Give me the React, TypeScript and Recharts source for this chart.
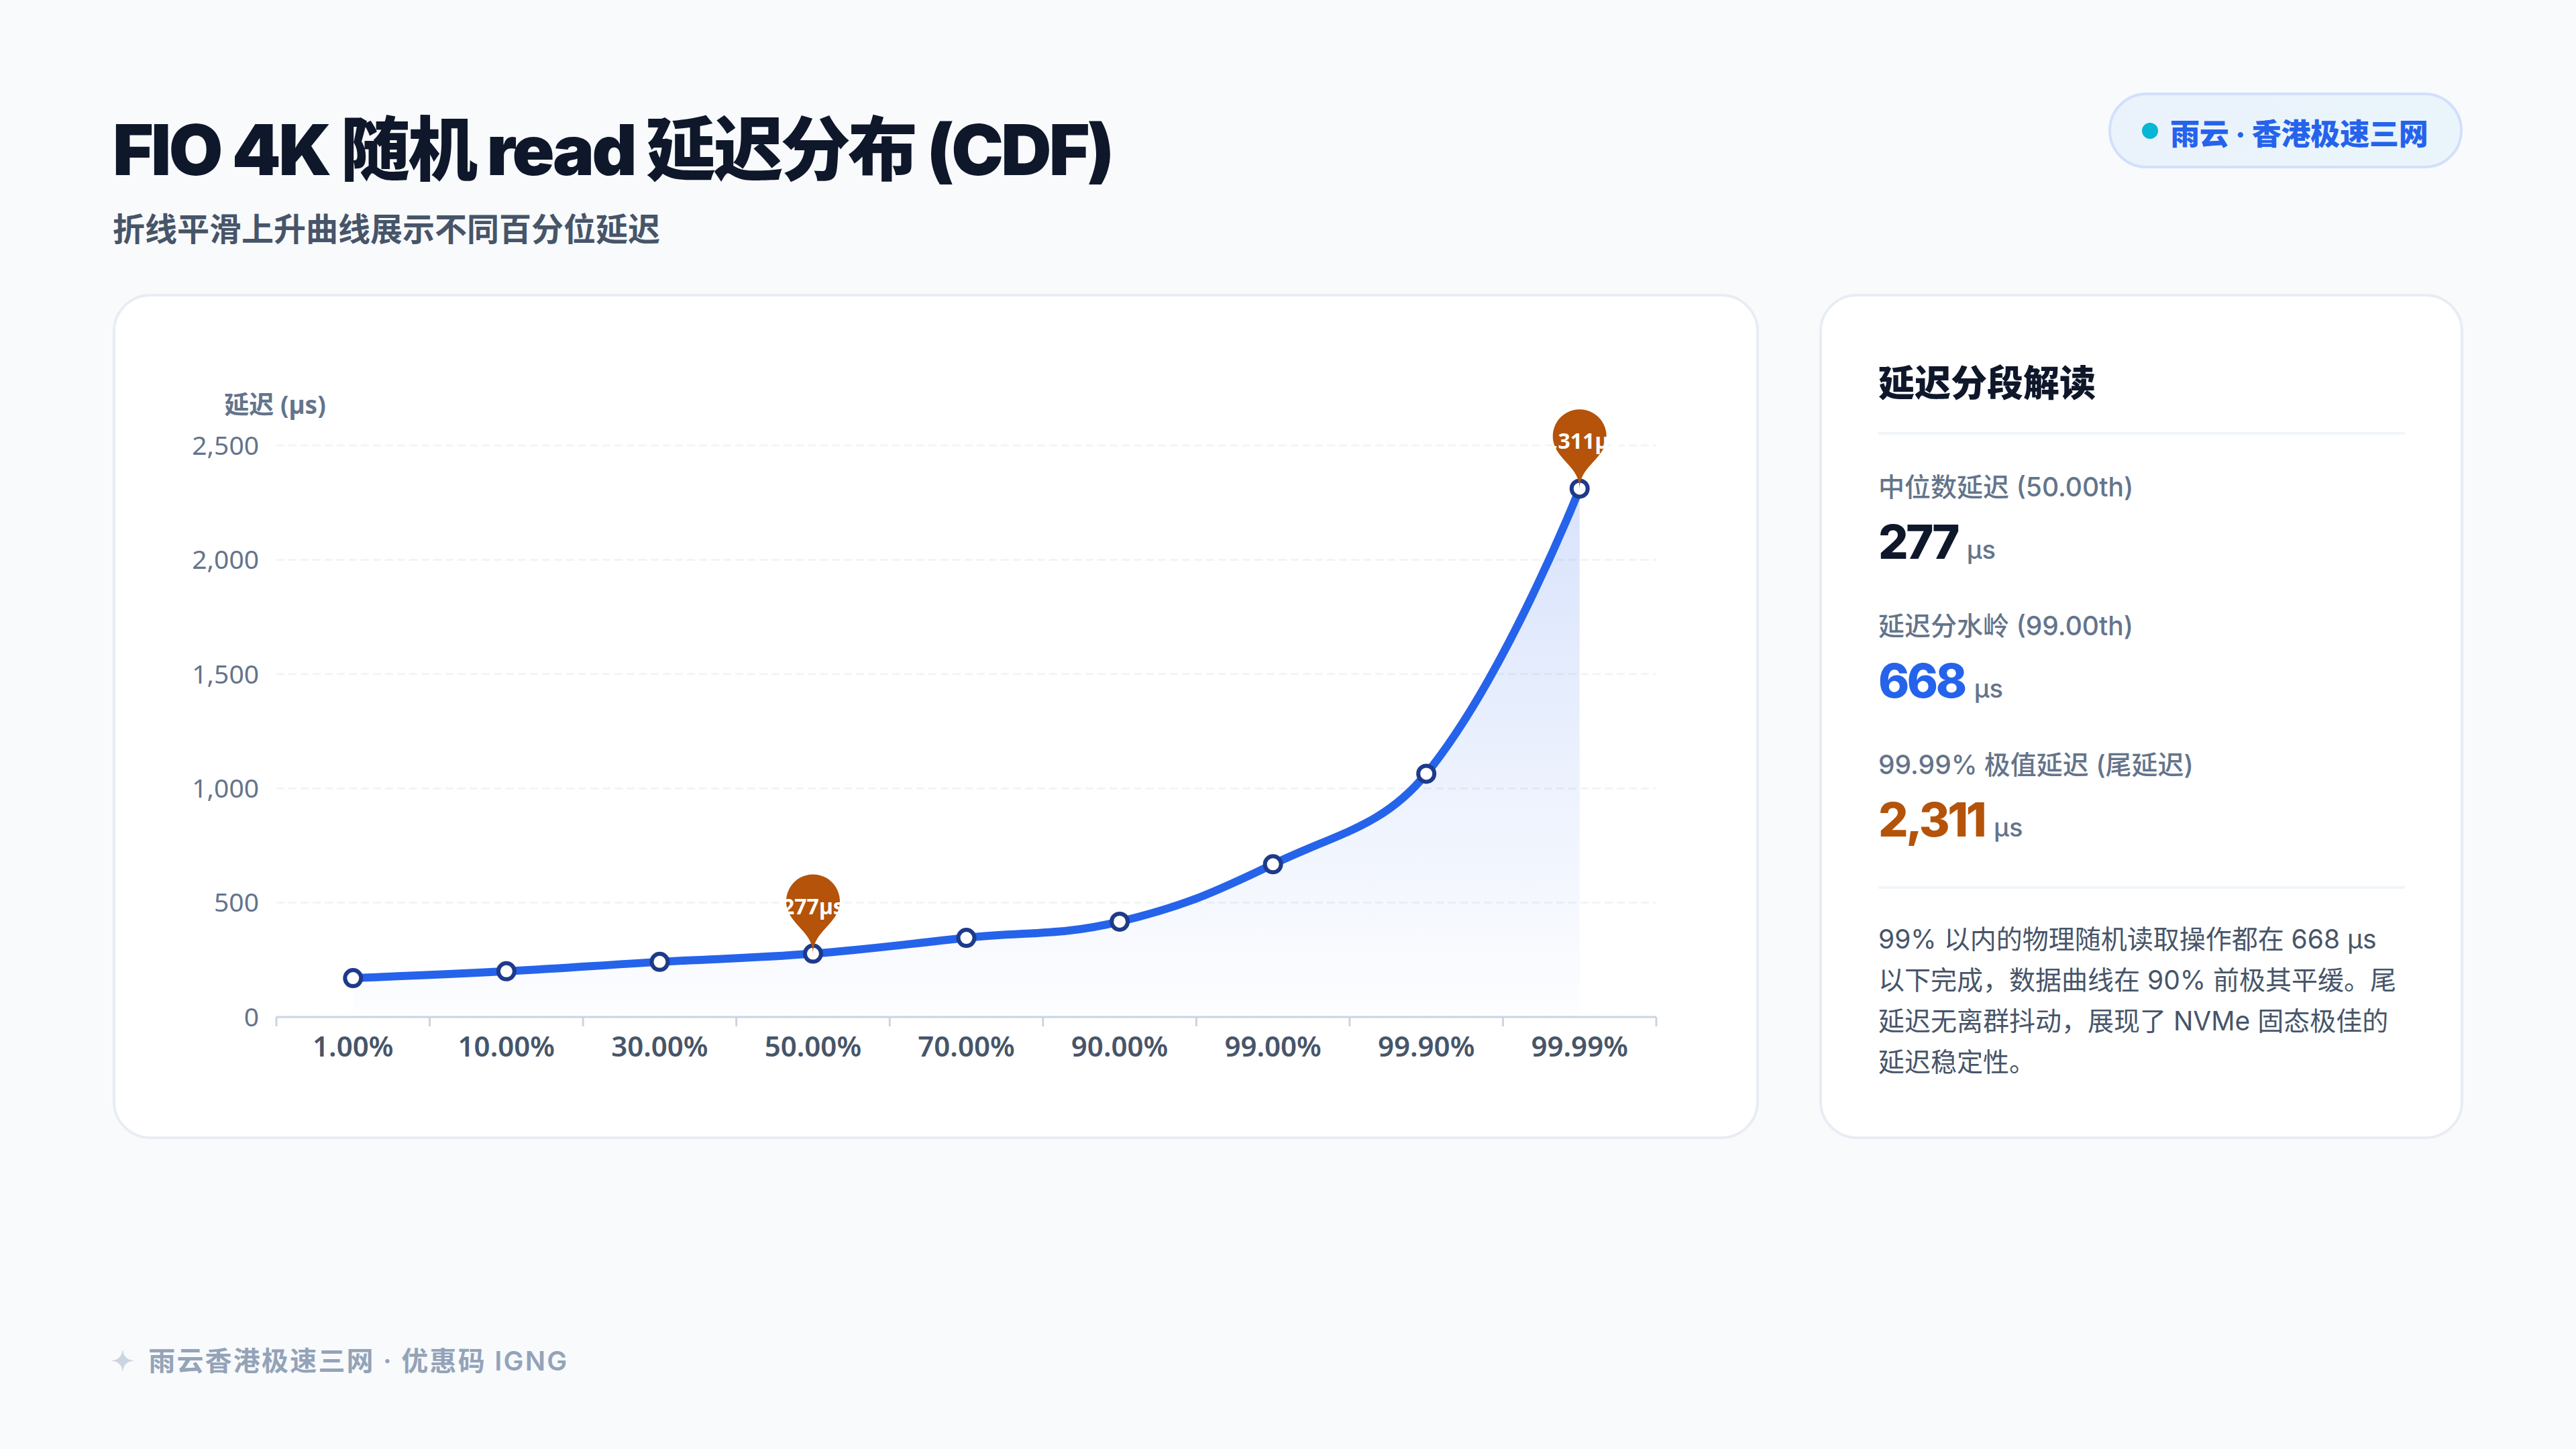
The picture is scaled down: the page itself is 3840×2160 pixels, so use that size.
import {
  Area,
  CartesianGrid,
  ComposedChart,
  Line,
  XAxis,
  YAxis,
} from "recharts";

const percentiles = ["1.00%", "10.00%", "30.00%", "50.00%", "70.00%", "90.00%", "99.00%", "99.90%", "99.99%"];
const latencies = [170, 200, 241, 277, 346, 417, 668, 1064, 2311];
const pinned = [null, null, null, 277, null, null, null, null, 2311];
const yTicks = [0, 500, 1000, 1500, 2000, 2500];

const statLabels = ["中位数延迟 (50.00th)", "延迟分水岭 (99.00th)", "99.99% 极值延迟 (尾延迟)"];
const statValues = ["277", "668", "2,311"];
const statColors = ["#0f172a", "#2563eb", "#b45309"];

const noteLines = [
  "99% 以内的物理随机读取操作都在 668 µs",
  "以下完成，数据曲线在 90% 前极其平缓。尾",
  "延迟无离群抖动，展现了 NVMe 固态极佳的",
  "延迟稳定性。",
];

const chartData = percentiles.map((p, i) => ({ p, latency: latencies[i], pin: pinned[i] }));

const UI_FONT = 'Inter, "Noto Sans CJK SC", sans-serif';
const CHART_FONT = '"Noto Sans", "Noto Sans CJK SC", sans-serif';

const CHART_W = 2454;
const CHART_H = 1258;
const MARGIN = { top: 224, right: 153, bottom: 122, left: 144 };
const BAND = (CHART_W - MARGIN.left - 100 - MARGIN.right) / percentiles.length;

// same control points as a canvas chart's "smooth" line, so the bump before 99.9% comes out right
const SMOOTH = 0.4;
function smoothCurve(context: any) {
  let pts: number[][] = [];
  let line = NaN;
  return {
    areaStart() {
      line = 0;
    },
    areaEnd() {
      line = NaN;
    },
    lineStart() {
      pts = [];
    },
    point(x: number, y: number) {
      pts.push([+x, +y]);
    },
    lineEnd() {
      if (pts.length) {
        if (line) context.lineTo(pts[0][0], pts[0][1]);
        else context.moveTo(pts[0][0], pts[0][1]);
      }
      let cp = pts[0];
      for (let i = 1; i < pts.length; i++) {
        const prev = pts[i - 1];
        const cur = pts[i];
        const next = pts[i + 1];
        if (!next) {
          context.bezierCurveTo(cp[0], cp[1], cur[0], cur[1], cur[0], cur[1]);
          break;
        }
        const dx = next[0] - prev[0];
        const dy = next[1] - prev[1];
        const lenPrev = Math.hypot(cur[0] - prev[0], cur[1] - prev[1]);
        const lenNext = Math.hypot(next[0] - cur[0], next[1] - cur[1]);
        const ratio = lenPrev + lenNext > 0 ? lenNext / (lenPrev + lenNext) : 0;
        let c0x = cur[0] - dx * SMOOTH * (1 - ratio);
        let c0y = cur[1] - dy * SMOOTH * (1 - ratio);
        let c1x = cur[0] + dx * SMOOTH * ratio;
        let c1y = cur[1] + dy * SMOOTH * ratio;
        c1x = Math.min(c1x, Math.max(next[0], cur[0]));
        c1y = Math.min(c1y, Math.max(next[1], cur[1]));
        c1x = Math.max(c1x, Math.min(next[0], cur[0]));
        c1y = Math.max(c1y, Math.min(next[1], cur[1]));
        c0x = Math.min(c0x, Math.max(prev[0], cur[0]));
        c0y = Math.min(c0y, Math.max(prev[1], cur[1]));
        c0x = Math.max(c0x, Math.min(prev[0], cur[0]));
        c0y = Math.max(c0y, Math.min(prev[1], cur[1]));
        context.bezierCurveTo(cp[0], cp[1], c0x, c0y, cur[0], cur[1]);
        cp = [c1x, c1y];
      }
      if (line === 1) context.closePath();
      line = 1 - line;
    },
  };
}

function XTick({ x, y, payload, index }: any) {
  return (
    <g>
      <line x1={x - BAND / 2} x2={x - BAND / 2} y1={y} y2={y + 14} stroke="#cbd5e1" strokeWidth={3} />
      {index === percentiles.length - 1 && (
        <line x1={x + BAND / 2} x2={x + BAND / 2} y1={y} y2={y + 14} stroke="#cbd5e1" strokeWidth={3} />
      )}
      <text
        x={x}
        y={y + 59}
        textAnchor="middle"
        fill="#475569"
        fontSize={42}
        fontWeight={600}
        fontFamily={CHART_FONT}
      >
        {payload.value}
      </text>
    </g>
  );
}

function Dot({ cx, cy, index }: any) {
  return <circle key={index} cx={cx} cy={cy} r={12} fill="#ffffff" stroke="#1e3a8a" strokeWidth={6} />;
}

// teardrop marker, tip sits on the data point
function Pin({ cx, cy, index, payload }: any) {
  if (payload.pin == null) return <g key={index} />;
  const r = 40;
  const h = 135;
  const dy = (r * r) / (h - r);
  const cCenter = cy - h + r + dy;
  const angle = Math.asin(dy / r);
  const dx = Math.cos(angle) * r;
  const tanX = Math.sin(angle);
  const tanY = Math.cos(angle);
  const cp = r * 0.6;
  const cp2 = r * 0.7;
  const d = [
    `M${cx - dx} ${cCenter + dy}`,
    `A${r} ${r} 0 1 1 ${cx + dx} ${cCenter + dy}`,
    `C${cx + dx - tanX * cp} ${cCenter + dy + tanY * cp} ${cx} ${cy - cp2} ${cx} ${cy}`,
    `C${cx} ${cy - cp2} ${cx - dx + tanX * cp} ${cCenter + dy + tanY * cp} ${cx - dx} ${cCenter + dy}`,
    "Z",
  ].join(" ");
  return (
    <g key={index}>
      <path d={d} fill="#b45309" />
      <text
        x={cx}
        y={cy - 59}
        textAnchor="middle"
        fill="#ffffff"
        fontSize={32}
        fontWeight={700}
        fontFamily={CHART_FONT}
      >
        {`${payload.pin.toLocaleString("en-US")}µs`}
      </text>
    </g>
  );
}

function LatencyChart() {
  return (
    <div style={{ position: "absolute", left: 168, top: 440 }}>
      <ComposedChart width={CHART_W} height={CHART_H} data={chartData} margin={MARGIN}>
        <defs>
          <linearGradient id="areaFill" x1="0" y1="0" x2="0" y2="1">
            <stop offset="0%" stopColor="#2563eb" stopOpacity={0.18} />
            <stop offset="100%" stopColor="#2563eb" stopOpacity={0.01} />
          </linearGradient>
        </defs>
        <CartesianGrid vertical={false} stroke="#f1f5f9" strokeWidth={3} strokeDasharray="12 6" />
        <XAxis
          dataKey="p"
          scale="band"
          interval={0}
          height={60}
          stroke="#cbd5e1"
          strokeWidth={3}
          tickLine={false}
          tickSize={0}
          tickMargin={0}
          tick={<XTick />}
        />
        <YAxis
          width={100}
          domain={[0, 2500]}
          ticks={yTicks}
          interval={0}
          axisLine={false}
          tickLine={false}
          tickSize={0}
          tickMargin={26}
          tick={{ fill: "#64748b", fontSize: 39, fontFamily: CHART_FONT }}
          tickFormatter={(v: number) => v.toLocaleString("en-US")}
        />
        <Area
          dataKey="latency"
          type={smoothCurve as any}
          stroke="none"
          fill="url(#areaFill)"
          fillOpacity={1}
          dot={false}
          activeDot={false}
          isAnimationActive={false}
        />
        <Line
          dataKey="latency"
          type={smoothCurve as any}
          stroke="#2563eb"
          strokeWidth={12}
          dot={<Dot />}
          activeDot={false}
          isAnimationActive={false}
        />
        <Line
          dataKey="pin"
          stroke="none"
          dot={<Pin />}
          activeDot={false}
          legendType="none"
          isAnimationActive={false}
        />
        <text
          x={242}
          y={177}
          textAnchor="middle"
          fill="#64748b"
          fontSize={37}
          fontWeight={700}
          fontFamily={CHART_FONT}
        >
          延迟 (µs)
        </text>
      </ComposedChart>
    </div>
  );
}

const cardStyle: React.CSSProperties = {
  position: "absolute",
  top: 438,
  height: 1260,
  boxSizing: "border-box",
  background: "#ffffff",
  border: "4px solid #e8edf4",
  borderRadius: 56,
};

export default function App() {
  return (
    <div
      style={{
        position: "absolute",
        left: 0,
        top: 0,
        width: 3840,
        height: 2160,
        overflow: "hidden",
        background: "#f8fafc",
        fontFamily: UI_FONT,
      }}
    >
      <div
        style={{
          position: "absolute",
          left: 168,
          top: 163,
          lineHeight: "120px",
          fontSize: 104,
          fontWeight: 900,
          letterSpacing: "-0.035em",
          color: "#0f172a",
          whiteSpace: "nowrap",
        }}
      >
        FIO 4K 随机 read 延迟分布 (CDF)
      </div>
      <div
        style={{
          position: "absolute",
          left: 168,
          top: 312,
          lineHeight: "60px",
          fontSize: 48,
          fontWeight: 600,
          color: "#475569",
          whiteSpace: "nowrap",
        }}
      >
        折线平滑上升曲线展示不同百分位延迟
      </div>

      <div
        style={{
          position: "absolute",
          left: 3143,
          top: 138,
          width: 528,
          height: 113,
          boxSizing: "border-box",
          border: "4px solid #d1e0fb",
          borderRadius: 57,
          background: "linear-gradient(135deg, #eaf2fb, #eaf5fb)",
          display: "flex",
          alignItems: "center",
          paddingLeft: 46,
          gap: 18,
        }}
      >
        <span style={{ width: 24, height: 24, borderRadius: 12, background: "#06b6d4", flex: "none" }} />
        <span
          style={{
            fontSize: 44,
            fontWeight: 800,
            letterSpacing: "-0.2px",
            color: "#2563eb",
            whiteSpace: "nowrap",
            position: "relative",
            top: 2,
          }}
        >
          雨云 · 香港极速三网
        </span>
      </div>

      <div style={{ ...cardStyle, left: 168, width: 2454 }} />
      <LatencyChart />

      <div style={{ ...cardStyle, left: 2712, width: 960 }} />
      <div
        style={{
          position: "absolute",
          left: 2800,
          top: 537,
          lineHeight: "70px",
          fontSize: 54,
          fontWeight: 900,
          color: "#0f172a",
          whiteSpace: "nowrap",
        }}
      >
        延迟分段解读
      </div>
      <div style={{ position: "absolute", left: 2800, top: 644, width: 785, height: 4, background: "#f1f5f9" }} />

      {statLabels.map((label, i) => (
        <div key={label}>
          <div
            style={{
              position: "absolute",
              left: 2800,
              top: 701 + i * 207,
              lineHeight: "50px",
              fontSize: 39,
              fontWeight: 500,
              color: "#64748b",
              whiteSpace: "nowrap",
            }}
          >
            {label}
          </div>
          <div
            style={{
              position: "absolute",
              left: 2800,
              top: 766 + i * 207,
              lineHeight: "84px",
              display: "flex",
              alignItems: "baseline",
              gap: 14,
              whiteSpace: "nowrap",
            }}
          >
            <span style={{ fontSize: 70, fontWeight: 800, letterSpacing: "-0.05em", color: statColors[i] }}>
              {statValues[i]}
            </span>
            <span style={{ fontSize: 38, fontWeight: 500, color: "#64748b" }}>µs</span>
          </div>
        </div>
      ))}

      <div style={{ position: "absolute", left: 2800, top: 1321, width: 785, height: 4, background: "#f1f5f9" }} />
      <div style={{ position: "absolute", left: 2800, top: 1369, fontSize: 39, color: "#475569" }}>
        {noteLines.map((l) => (
          <div key={l} style={{ lineHeight: "61px", whiteSpace: "nowrap" }}>
            {l}
          </div>
        ))}
      </div>

      <div
        style={{
          position: "absolute",
          left: 166,
          top: 2004,
          lineHeight: "50px",
          fontSize: 40,
          fontWeight: 600,
          letterSpacing: 2.2,
          color: "#94a3b8",
          whiteSpace: "nowrap",
          display: "flex",
          gap: 19,
        }}
      >
        <span style={{ color: "#cbd5e1" }}>✦</span>
        <span>雨云香港极速三网 · 优惠码 IGNG</span>
      </div>
    </div>
  );
}
